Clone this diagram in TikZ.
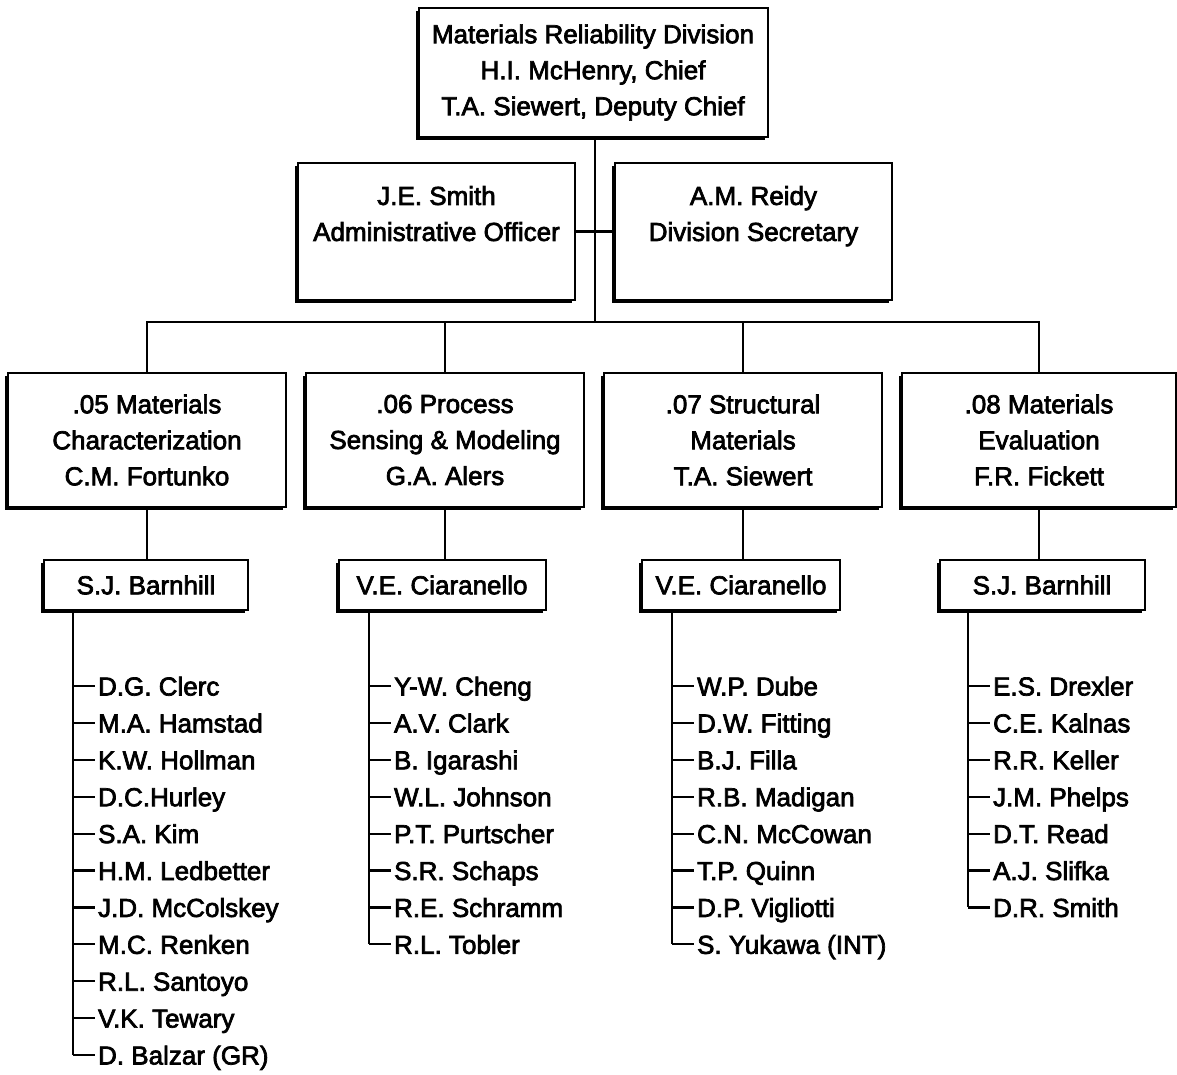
\documentclass[tikz,border=0pt]{standalone}
\usepackage{fontspec}
\setmainfont{Liberation Sans}
\newcommand{\heavy}[1]{\special{pdf:literal direct 2 Tr 0.7 w}#1\special{pdf:literal direct 0 Tr}}
\usetikzlibrary{shadows}
\begin{document}
\begin{tikzpicture}[x=1pt,y=-1pt,
  line width=2.2pt,
  orgbox/.style={draw, fill=white, line width=2pt, inner sep=0pt, align=center,
    font=\fontsize{26}{36}\selectfont,
    drop shadow={shadow xshift=-3pt, shadow yshift=-3pt, fill=black, opacity=1}},
  person/.style={anchor=west, inner sep=2pt, text height=19pt, text depth=0pt,
    font=\fontsize{26}{36}\selectfont},
  link/.style={line width=2.2pt}]
\useasboundingbox (0,0) rectangle (1177,1074);
% top level
\node[orgbox, minimum width=349pt, minimum height=129pt] (top) at (593,72.5)
  {\heavy{Materials Reliability Division}\\\heavy{H.I. McHenry, Chief}\\\heavy{T.A. Siewert, Deputy Chief}};
\node[orgbox, minimum width=277pt, minimum height=137pt] (smith) at (436.5,231.5)
  {\heavy{J.E. Smith}\\\heavy{Administrative Officer}\\\mbox{}};
\node[orgbox, minimum width=277pt, minimum height=137pt] (reidy) at (753.5,231.5)
  {\heavy{A.M. Reidy}\\\heavy{Division Secretary}\\\mbox{}};
\coordinate (hub) at (595,322);
% groups
\node[orgbox, minimum width=278pt, minimum height=134pt] (g1) at (147,440)
  {\heavy{.05 Materials}\\\heavy{Characterization}\\\heavy{C.M. Fortunko}};
\node[orgbox, minimum width=278pt, minimum height=134pt] (g2) at (445,440)
  {\heavy{.06 Process}\\\heavy{Sensing \& Modeling}\\\heavy{G.A. Alers}};
\node[orgbox, minimum width=278pt, minimum height=134pt] (g3) at (743,440)
  {\heavy{.07 Structural}\\\heavy{Materials}\\\heavy{T.A. Siewert}};
\node[orgbox, minimum width=274pt, minimum height=134pt] (g4) at (1039,440)
  {\heavy{.08 Materials}\\\heavy{Evaluation}\\\heavy{F.R. Fickett}};
% group leaders
\node[orgbox, minimum width=204pt, minimum height=50pt] (s1) at (146,585) {\heavy{S.J. Barnhill}};
\node[orgbox, minimum width=207pt, minimum height=50pt] (s2) at (442,585) {\heavy{V.E. Ciaranello}};
\node[orgbox, minimum width=198pt, minimum height=50pt] (s3) at (741,585) {\heavy{V.E. Ciaranello}};
\node[orgbox, minimum width=205pt, minimum height=50pt] (s4) at (1042,585) {\heavy{S.J. Barnhill}};
% connectors top
\draw[link] (top.south -| hub) -- (hub);
\draw[link] (smith.east) -- (reidy.west);
\draw[link] (g1.north) -- (g1.north |- hub) -- (g4.north |- hub) -- (g4.north);
\draw[link] (g2.north) -- (g2.north |- hub);
\draw[link] (g3.north) -- (g3.north |- hub);
\foreach \i in {1,2,3,4} { \draw[link] (g\i.south) -- (g\i.south |- s\i.north); }
% lists
\def\rowgap{36.9}
\newcommand{\orglist}[3]{% #1 prefix, #2 line x, #3 list
  \foreach \nm [count=\k] in {#3} {
    \node[person] (#1\k) at (#2+22, 686+\rowgap*\k-\rowgap) {\heavy{\nm}};
    \coordinate (#1c\k) at (#2, 686+\rowgap*\k-\rowgap);
    \draw[link] (#1c\k) -- (#1\k.west);
    \xdef\orglast{\k}
  }
}
\orglist{a}{73}{D.G. Clerc, M.A. Hamstad, K.W. Hollman, D.C.Hurley, S.A. Kim, H.M. Ledbetter, J.D. McColskey, M.C. Renken, R.L. Santoyo, V.K. Tewary, D. Balzar (GR)}
\draw[link] (s1.south -| ac1) -- (ac\orglast);
\orglist{b}{369}{Y-W. Cheng, A.V. Clark, B. Igarashi, W.L. Johnson, P.T. Purtscher, S.R. Schaps, R.E. Schramm, R.L. Tobler}
\draw[link] (s2.south -| bc1) -- (bc\orglast);
\orglist{c}{672}{W.P. Dube, D.W. Fitting, B.J. Filla, R.B. Madigan, C.N. McCowan, T.P. Quinn, D.P. Vigliotti, S. Yukawa (INT)}
\draw[link] (s3.south -| cc1) -- (cc\orglast);
\orglist{d}{968}{E.S. Drexler, C.E. Kalnas, R.R. Keller, J.M. Phelps, D.T. Read, A.J. Slifka, D.R. Smith}
\draw[link] (s4.south -| dc1) -- (dc\orglast);
\end{tikzpicture}
\end{document}
